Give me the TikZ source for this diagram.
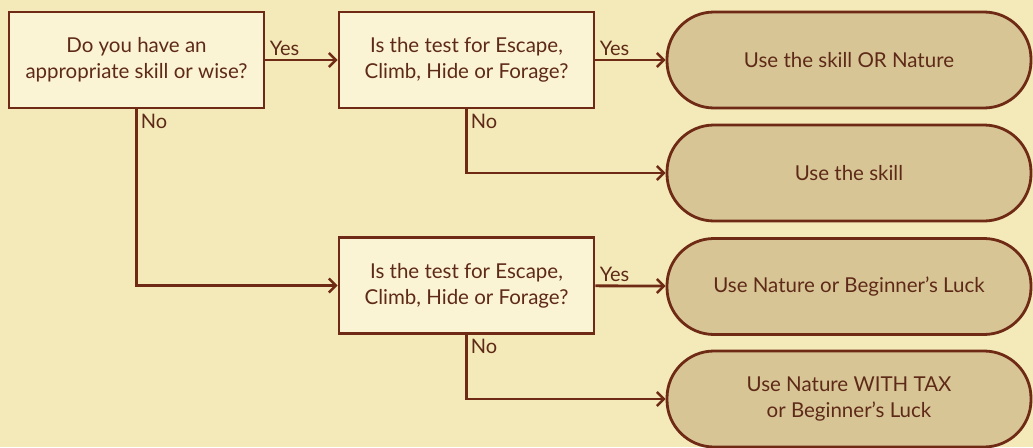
\documentclass[tikz,border=0pt]{standalone}
\usepackage{fontspec}
\setmainfont{Lato}
\usetikzlibrary{arrows.meta}
\definecolor{parch}{HTML}{F4E9B8}
\definecolor{boxfill}{HTML}{FBF4D4}
\definecolor{pillfill}{HTML}{D8C596}
\definecolor{ink}{HTML}{6E2A14}
\definecolor{txt}{HTML}{5E2A18}

\begin{document}
\begin{tikzpicture}[x=1pt,y=-1pt,line width=2.8pt,draw=ink,
    >={Straight Barb[length=7pt,width=14pt,line width=2.4pt]}]
\tikzstyle question=[draw=ink,fill=boxfill,minimum width=255pt,minimum height=96pt,
    align=center,text=txt,font=\fontsize{20.5}{26}\selectfont,inner sep=0pt]
\tikzstyle answer=[draw=ink,fill=pillfill,minimum width=364pt,minimum height=96pt,
    rounded corners=47pt,align=center,text=txt,font=\fontsize{20.5}{26}\selectfont,inner sep=0pt]
\tikzstyle flow=[ink,->]
\tikzstyle lbl=[text=txt,font=\fontsize{20}{22}\selectfont,inner sep=3pt]
 \fill[parch] (0,0) rectangle (1033,447);
 \useasboundingbox (0,0) rectangle (1033,447);
 \node[question] (skill) at (136.5,60) {Do you have an\\appropriate skill or wise?};
 \node[question] (test1) at (466.5,60) {Is the test for Escape,\\Climb, Hide or Forage?};
 \node[question] (test2) at (466.5,285.5) {Is the test for Escape,\\Climb, Hide or Forage?};
 \node[answer] (both) at (849,60) {Use the skill OR Nature};
 \node[answer] (useskill) at (849,173) {Use the skill};
 \node[answer] (luck) at (849,286.5) {Use Nature or Beginner’s Luck};
 \node[answer] (tax) at (849,399) {Use Nature WITH TAX\\or Beginner’s Luck};
 \draw[flow] (skill) -- (test1) node[lbl,pos=0,above right] {Yes};
 \draw[flow] (test1) -- (both) node[lbl,pos=0,above right] {Yes};
 \draw[flow] (test2) -- (luck) node[lbl,pos=0,above right] {Yes};
 \draw[flow] (skill.south) |- (test2.west) node[lbl,pos=0,below right] {No};
 \draw[flow] (test1.south) |- (useskill.west) node[lbl,pos=0,below right] {No};
 \draw[flow] (test2.south) |- (tax.west) node[lbl,pos=0,below right] {No};
\end{tikzpicture}
\end{document}
